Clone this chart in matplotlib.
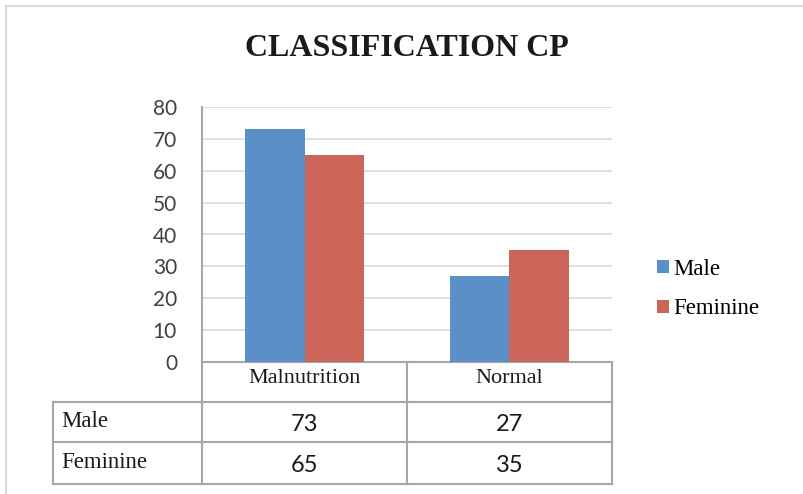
import numpy as np
import matplotlib.pyplot as plt
import matplotlib
from matplotlib.lines import Line2D

categories = ['Malnutrition', 'Normal']
series_names = ['Male', 'Feminine']
male = [73, 27]
feminine = [65, 35]
yticks = [0, 10, 20, 30, 40, 50, 60, 70, 80]

blue = '#5b8fc7'
red = '#cc6559'
grid_c = '#d9d9d9'
line_c = '#a6a6a6'
serif = ['Liberation Serif', 'DejaVu Serif']
sans = ['Lato', 'DejaVu Sans']

W, H = 804, 494
fig = plt.figure(figsize=(W / 100, H / 100), dpi=100)

# outer frame of the chart
fig.add_artist(Line2D([6 / W, 6 / W], [0, 1 - 6 / H], transform=fig.transFigure, color='#d9d9d9', lw=1.5))
fig.add_artist(Line2D([6 / W, 1], [1 - 6 / H, 1 - 6 / H], transform=fig.transFigure, color='#d9d9d9', lw=1.5))

left, top, right, bottom = 202, 107, 612, 362
ax = fig.add_axes([left / W, 1 - bottom / H, (right - left) / W, (bottom - top) / H])

x = np.arange(len(categories))
bw = 0.288
ax.bar(x - bw / 2, male, bw, color=blue, label=series_names[0], zorder=3)
ax.bar(x + bw / 2, feminine, bw, color=red, label=series_names[1], zorder=3)

ax.set_xlim(-0.5, len(categories) - 0.5)
ax.set_ylim(0, 80)
ax.set_yticks(yticks)
ax.set_yticklabels([str(v) for v in yticks], fontfamily=sans, fontsize=15, color='#404040')
ax.tick_params(axis='y', length=0, pad=18)
ax.set_xticks([])
ax.yaxis.grid(True, color=grid_c, lw=1.2, zorder=0)
for s in ['top', 'right']:
    ax.spines[s].set_visible(False)
ax.spines['left'].set_color(line_c)
ax.spines['bottom'].set_color(line_c)
ax.spines['left'].set_linewidth(1.5)
ax.spines['bottom'].set_linewidth(1.5)

ax.set_title('CLASSIFICATION CP', fontfamily=serif, fontweight='bold', fontsize=23,
             pad=37, color='#1a1a1a')

# data table below the plot
def fy(py):
    return (bottom - py) / (bottom - top)

def fx(px):
    return (px - left) / (right - left)

rows_y = [fy(402), fy(442), fy(484)]
kw = dict(transform=ax.transAxes, color=line_c, lw=1.5, clip_on=False)
ax.add_line(Line2D([0, 0], [0, rows_y[2]], **kw))
ax.add_line(Line2D([0.5, 0.5], [0, rows_y[2]], **kw))
ax.add_line(Line2D([1, 1], [0, rows_y[2]], **kw))
ax.add_line(Line2D([fx(53), fx(53)], [rows_y[0], rows_y[2]], **kw))
for ry in rows_y:
    ax.add_line(Line2D([fx(53), 1], [ry, ry], **kw))

col_x = [(i + 0.5) / len(categories) for i in range(len(categories))]
for cx, cat in zip(col_x, categories):
    ax.text(cx, fy(378), cat, transform=ax.transAxes, ha='center', va='center',
            fontfamily=serif, fontsize=16, color='#1a1a1a')
table_rows = [male, feminine]
row_centers = [fy(421), fy(462)]
for name, vals, ry in zip(series_names, table_rows, row_centers):
    ax.text(fx(61), ry, name, transform=ax.transAxes, ha='left', va='center',
            fontfamily=serif, fontsize=16.5, color='#1a1a1a')
    for cx, v in zip(col_x, vals):
        ax.text(cx, ry - 0.012, str(v), transform=ax.transAxes, ha='center', va='center',
                fontfamily=sans, fontsize=17, color='#1a1a1a')

leg = ax.legend(loc='center left', bbox_to_anchor=(fx(648), fy(289)), frameon=False,
                prop={'family': serif, 'size': 16.5}, handlelength=0.5, handleheight=0.5,
                handletextpad=0.2, labelspacing=0.8, borderaxespad=0)

fig.savefig('out.png', dpi=100)
